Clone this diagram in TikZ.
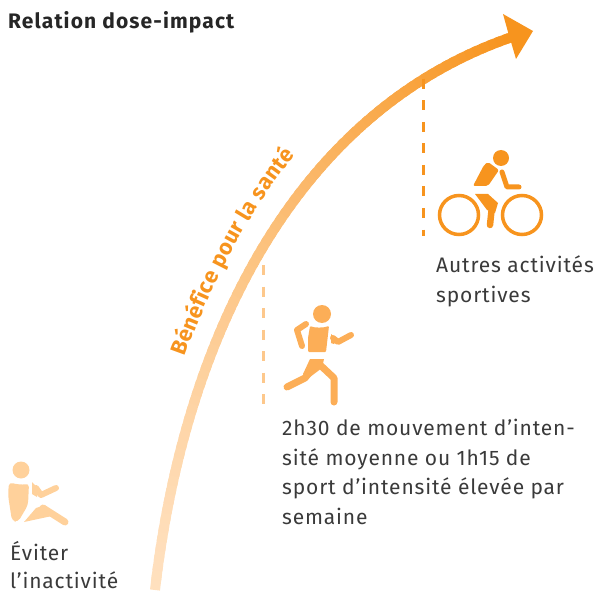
\documentclass[tikz,border=0pt]{standalone}
\usepackage{fontspec}
\setmainfont{Fira Sans}
\newfontfamily\labelfont{Fira Sans}[LetterSpace=4]
\newfontfamily\headfont{Fira Sans Bold}[LetterSpace=5.3]
\newfontfamily\curvefont{Fira Sans Bold}
\usetikzlibrary{decorations.text}
\definecolor{lightO}{HTML}{FFE0BE}
\definecolor{sitO}{HTML}{FFD19B}
\definecolor{midO}{HTML}{FCAE57}
\definecolor{dashO}{HTML}{FDC88C}
\definecolor{fullO}{HTML}{F7941E}
\definecolor{txt}{HTML}{3A3A3A}
\tikzset{
  declare function={bz(\t,\a,\b,\c,\d)=(1-\t)^3*\a+3*(1-\t)^2*\t*\b+3*(1-\t)*\t^2*\c+\t^3*\d;},
  label text/.style={font=\labelfont\fontsize{21}{25}\selectfont,text=txt,anchor=base west,inner sep=0pt},
  limb/.style={line width=#1,line cap=round,line join=round},
}
\begin{document}
\begin{tikzpicture}[x=1pt,y=-1pt]
\useasboundingbox (0,0) rectangle (600,591);
% gradient curve
\foreach \i in {0,...,79}{
  \pgfmathsetmacro{\ta}{\i/80}
  \pgfmathsetmacro{\tb}{min(1,(\i+1.6)/80)}
  \pgfmathsetmacro{\pc}{100*(\i/79)^1.3}
  \draw[line width=10pt,color=fullO!\pc!lightO]
    ({bz(\ta,155,185,300,512)},{bz(\ta,590,330,110,37)}) -- ({bz(\tb,155,185,300,512)},{bz(\tb,590,330,110,37)});
}
\fill[fullO] (503,14) -- (533,31) -- (516,59) -- (511,42) -- (508,32) -- cycle;
% dashed
\coordinate (d1a) at (423,79); \coordinate (d1b) at (423,236);
\coordinate (d2a) at (263,265); \coordinate (d2b) at (263,405);
\draw[fullO,line width=3pt,dash pattern=on 10pt off 11.5pt] (d1a) -- (d1b);
\draw[dashO,line width=3pt,dash pattern=on 10pt off 11.5pt] (d2a) -- (d2b);
% title
\node[font=\headfont\fontsize{21}{25}\selectfont,text=black!85,anchor=base west,inner sep=0pt] (title) at (8,29) {Relation dose-impact};
% curved label
\path[decorate,decoration={text along path,text align={fit to path},
  text format delimiters={|}{|},
  text={|\curvefont\fontsize{22}{26}\selectfont\color{fullO}|Bénéfice pour la santé}}]
  (185,357) .. controls (205,300) and (245,215) .. (295,155);
% labels
\node[label text] (l1) at (436,272) {Autres activités};
\node[label text] (l2) at (436,302) {sportives};
\node[label text] (l3) at (282,435) {2h30 de mouvement d’inten-};
\node[label text] (l4) at (282,465) {sité moyenne ou 1h15 de};
\node[label text] (l5) at (282,494) {sport d’intensité élevée par};
\node[label text] (l6) at (282,524) {semaine};
\node[label text] (l7) at (10,560) {Éviter};
\node[label text] (l8) at (10,588) {l’inactivité};
% sitting figure
\fill[sitO] (21,470) circle (8.5);
\fill[sitO,rounded corners=4pt] (9,482) .. controls (15,484) and (23,485) .. (29,483) -- (28,505) -- (18,522) -- (12,521) -- (8,495) -- cycle;
\fill[sitO] (32,482) -- (39,489) -- (37,497) -- (32,494) -- cycle;
\draw[sitO,limb=6pt] (36,488) -- (41,495) -- (56,488);
\fill[sitO] (24,522) -- (36,508) -- (45,505) -- (52,516) -- cycle;
\draw[sitO,limb=7pt] (43,508) -- (65,522);
% runner
\fill[midO] (322,314) circle (9);
\fill[midO,rounded corners=1pt] (310,326) .. controls (315,328) and (323,328) .. (329,326) -- (326,352) -- (308,352) -- (308,338) -- cycle;
\draw[midO,limb=6pt] (306,324) -- (297,330) -- (302,346);
\fill[midO] (331,334) -- (337,340) -- (334,344) -- (331,343) -- cycle;
\draw[midO,limb=6pt] (333,338) -- (338,342) -- (351,335);
\fill[midO] (310,359) -- (324,359) -- (322,368) -- (306,380) -- (303,374) -- cycle;
\draw[midO,limb=7pt] (309,373) -- (305,378) -- (287,387);
\draw[midO,limb=7pt] (318,363) -- (334,378) -- (334,402);
% cyclist
\fill[fullO] (501,158) circle (8);
\fill[fullO,rounded corners=2pt] (473,186) -- (484,165) -- (488,162) -- (499,170) -- (488,186) -- cycle;
\draw[fullO,limb=5pt] (502,172) -- (507,187) -- (519,187);
\fill[fullO] (475,194) -- (488,194) -- (498,203) -- (495,213) -- (487,210) -- cycle;
\draw[fullO,limb=6.5pt] (492,206) -- (490,225);
\draw[fullO,line width=3.5pt] (459,215) circle (19.5);
\draw[fullO,line width=3.5pt] (522,215) circle (19.5);
\end{tikzpicture}
\end{document}
